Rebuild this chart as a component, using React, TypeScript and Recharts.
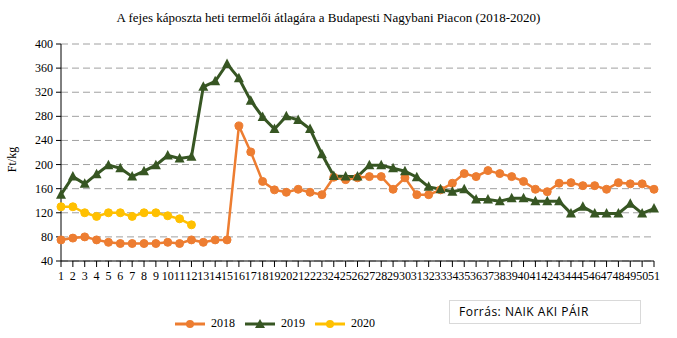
import { LineChart, Line, XAxis, YAxis, CartesianGrid, Legend } from 'recharts'

const weeks = [
  '1', '2', '3', '4', '5', '6', '7', '8', '9', '10',
  '11', '12', '13', '14', '15', '16', '17', '18', '19', '20',
  '21', '22', '23', '24', '25', '26', '27', '28', '29', '30',
  '31', '32', '33', '34', '35', '36', '37', '38', '39', '40',
  '41', '42', '43', '44', '45', '46', '47', '48', '49', '50', '51',
]

const y2018 = [
  75, 78, 80, 75, 71, 69, 69, 69, 69, 71,
  69, 75, 71, 75, 75, 264, 221, 172, 158, 154,
  159, 154, 150, 179, 175, 178, 180, 180, 159, 178,
  150, 150, 158, 169, 185, 180, 190, 185, 180, 172,
  159, 155, 169, 170, 165, 165, 159, 170, 168, 168, 159,
]

const y2019 = [
  150, 180, 168, 184, 199, 194, 180, 189, 199, 215,
  210, 213, 329, 338, 367, 343, 306, 279, 259, 280,
  274, 259, 217, 181, 180, 180, 199, 199, 194, 189,
  179, 163, 159, 155, 159, 142, 142, 139, 144, 144,
  139, 139, 139, 119, 130, 119, 119, 119, 135, 119, 127,
]

const y2020 = [130, 130, 120, 114, 120, 120, 114, 120, 120, 115, 110, 100]

const yTicks = [40, 80, 120, 160, 200, 240, 280, 320, 360, 400]

const series = [
  { key: 'y2018', name: '2018', color: '#ED7D31', shape: 'circle' },
  { key: 'y2019', name: '2019', color: '#375623', shape: 'triangle' },
  { key: 'y2020', name: '2020', color: '#FFC000', shape: 'circle' },
]

const data = weeks.map((w, i) => ({
  week: w,
  y2018: y2018[i],
  y2019: y2019[i],
  y2020: i < y2020.length ? y2020[i] : null,
}))

const serif = '"Liberation Serif", "Times New Roman", serif'

function Triangle(props: any) {
  const { cx, cy, index } = props
  if (cx == null || cy == null) return <g key={index} />
  return (
    <polygon
      key={index}
      points={`${cx},${cy - 5.5} ${cx - 5},${cy + 4} ${cx + 5},${cy + 4}`}
      fill="#375623"
    />
  )
}

function XTick({ x, y, payload }: any) {
  return (
    <text x={x} y={y + 11} textAnchor="middle" fontFamily={serif} fontSize={12} fill="#000">
      {payload.value}
    </text>
  )
}

function YTick({ x, y, payload }: any) {
  return (
    <text x={x} y={y + 4} textAnchor="end" fontFamily={serif} fontSize={12} fill="#000">
      {payload.value}
    </text>
  )
}

function LegendContent() {
  return (
    <div style={{ display: 'flex', justifyContent: 'center', fontFamily: serif, fontSize: 12 }}>
      {series.map(s => (
        <div key={s.key} style={{ display: 'flex', alignItems: 'center', marginRight: 10 }}>
          <svg width={30} height={12} style={{ marginRight: 6 }}>
            <line x1={0} y1={6} x2={30} y2={6} stroke={s.color} strokeWidth={3} />
            {s.shape === 'circle'
              ? <circle cx={15} cy={6} r={4} fill={s.color} />
              : <polygon points="15,1 10,10 20,10" fill={s.color} />}
          </svg>
          <span>{s.name}</span>
        </div>
      ))}
    </div>
  )
}

export default function App() {
  return (
    <div style={{ position: 'absolute', left: 0, top: 0, width: 677, height: 338, background: '#fff' }}>
      <div style={{ position: 'absolute', left: 0, width: 657, top: 10, textAlign: 'center', fontFamily: serif, fontSize: 13, color: '#000' }}>
        A fejes káposzta heti termelői átlagára a Budapesti Nagybani Piacon (2018-2020)
      </div>
      <div style={{ position: 'absolute', left: -8, top: 152, transform: 'rotate(-90deg)', fontFamily: serif, fontSize: 12, width: 40, textAlign: 'center' }}>
        Ft/kg
      </div>
      <LineChart width={677} height={338} data={data} margin={{ top: 44, right: 23, bottom: 42, left: 11 }}>
        <CartesianGrid vertical={false} stroke="#a0a0a0" strokeDasharray="7 4" />
        <XAxis
          dataKey="week"
          interval={0}
          tickSize={6}
          tickMargin={2}
          height={20}
          stroke="#000"
          tick={<XTick />}
        />
        <YAxis
          domain={[40, 400]}
          ticks={yTicks}
          width={50}
          tickSize={5}
          tickMargin={3}
          stroke="#000"
          tick={<YTick />}
        />
        <Legend
          content={<LegendContent />}
          wrapperStyle={{ position: 'absolute', top: 316, left: 0, width: 560 }}
        />
        <Line dataKey="y2018" name="2018" stroke="#ED7D31" strokeWidth={2.5}
          dot={{ r: 4, fill: '#ED7D31', stroke: '#ED7D31', strokeWidth: 1 }} isAnimationActive={false} />
        <Line dataKey="y2019" name="2019" stroke="#375623" strokeWidth={3}
          dot={Triangle} isAnimationActive={false} />
        <Line dataKey="y2020" name="2020" stroke="#FFC000" strokeWidth={2.5}
          dot={{ r: 4, fill: '#FFC000', stroke: '#FFC000', strokeWidth: 1 }} isAnimationActive={false} />
      </LineChart>
      <div style={{ position: 'absolute', left: 449, top: 300, width: 192, height: 24, border: '1px solid #d9d9d9', boxSizing: 'border-box', fontFamily: '"Open Sans", "Liberation Sans", sans-serif', fontSize: 12, letterSpacing: 0.5, paddingLeft: 9, lineHeight: '22px', color: '#000' }}>
        Forrás: NAIK AKI PÁIR
      </div>
    </div>
  )
}
